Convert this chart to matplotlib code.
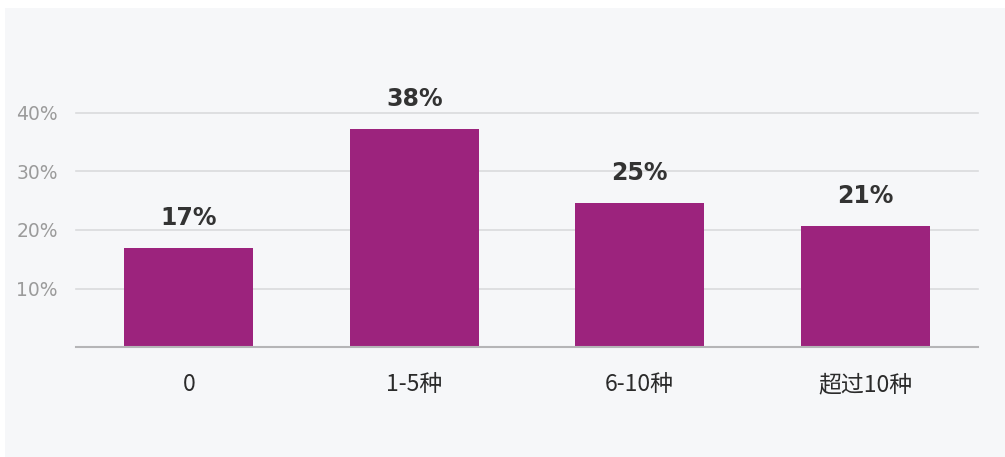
import matplotlib.pyplot as plt
from matplotlib.patches import Rectangle

# Data
categories = ["0", "1-5种", "6-10种", "超过10种"]
values = [16.9, 37.3, 24.6, 20.7]
value_labels = ["17%", "38%", "25%", "21%"]
y_ticks = [10, 20, 30, 40]
y_tick_labels = ["10%", "20%", "30%", "40%"]

plt.rcParams['font.family'] = ['DejaVu Sans', 'Noto Sans CJK SC']

fig = plt.figure(figsize=(10.05, 4.57), dpi=100)
fig.patch.set_facecolor("white")

# light gray panel behind the chart
fig.patches.append(Rectangle((5 / 1005, 0), 1 - 5 / 1005, 1 - 8 / 457,
                             transform=fig.transFigure, facecolor="#f6f7f9",
                             edgecolor="none", zorder=-10))

ax = fig.add_axes([76 / 1005, 1 - 347 / 457, (978 - 76) / 1005, (347 - 113) / 457])
ax.set_facecolor("none")

x = range(len(categories))
bars = ax.bar(x, values, width=0.57, color="#9c237d", zorder=3)

ax.set_xlim(-0.5, len(categories) - 0.5)
ax.set_ylim(0, 40)

for t in y_ticks:
    ax.axhline(t, color="#dadbdd", linewidth=1.2, zorder=1, clip_on=False)

ax.set_yticks(y_ticks)
ax.set_yticklabels(y_tick_labels, color="#9b9b9b", fontsize=13.5)
ax.set_xticks(list(x))
ax.set_xticklabels(categories, fontsize=16.5, color="#2b2b2b",
                   family=['Noto Sans CJK SC', 'DejaVu Sans'])
ax.tick_params(axis="y", length=0, pad=13)
ax.tick_params(axis="x", length=0, pad=19)

for side in ["top", "right", "left"]:
    ax.spines[side].set_visible(False)
ax.spines["bottom"].set_color("#b5b5b7")
ax.spines["bottom"].set_linewidth(1.5)
ax.spines["bottom"].set_zorder(4)

for bar, lab in zip(bars, value_labels):
    ax.annotate(lab, (bar.get_x() + bar.get_width() / 2, bar.get_height()),
                xytext=(0, 13), textcoords="offset points", ha="center",
                va="bottom", fontsize=17, fontweight="bold", color="#333333",
                annotation_clip=False)

fig.savefig("out.png", dpi=100)
